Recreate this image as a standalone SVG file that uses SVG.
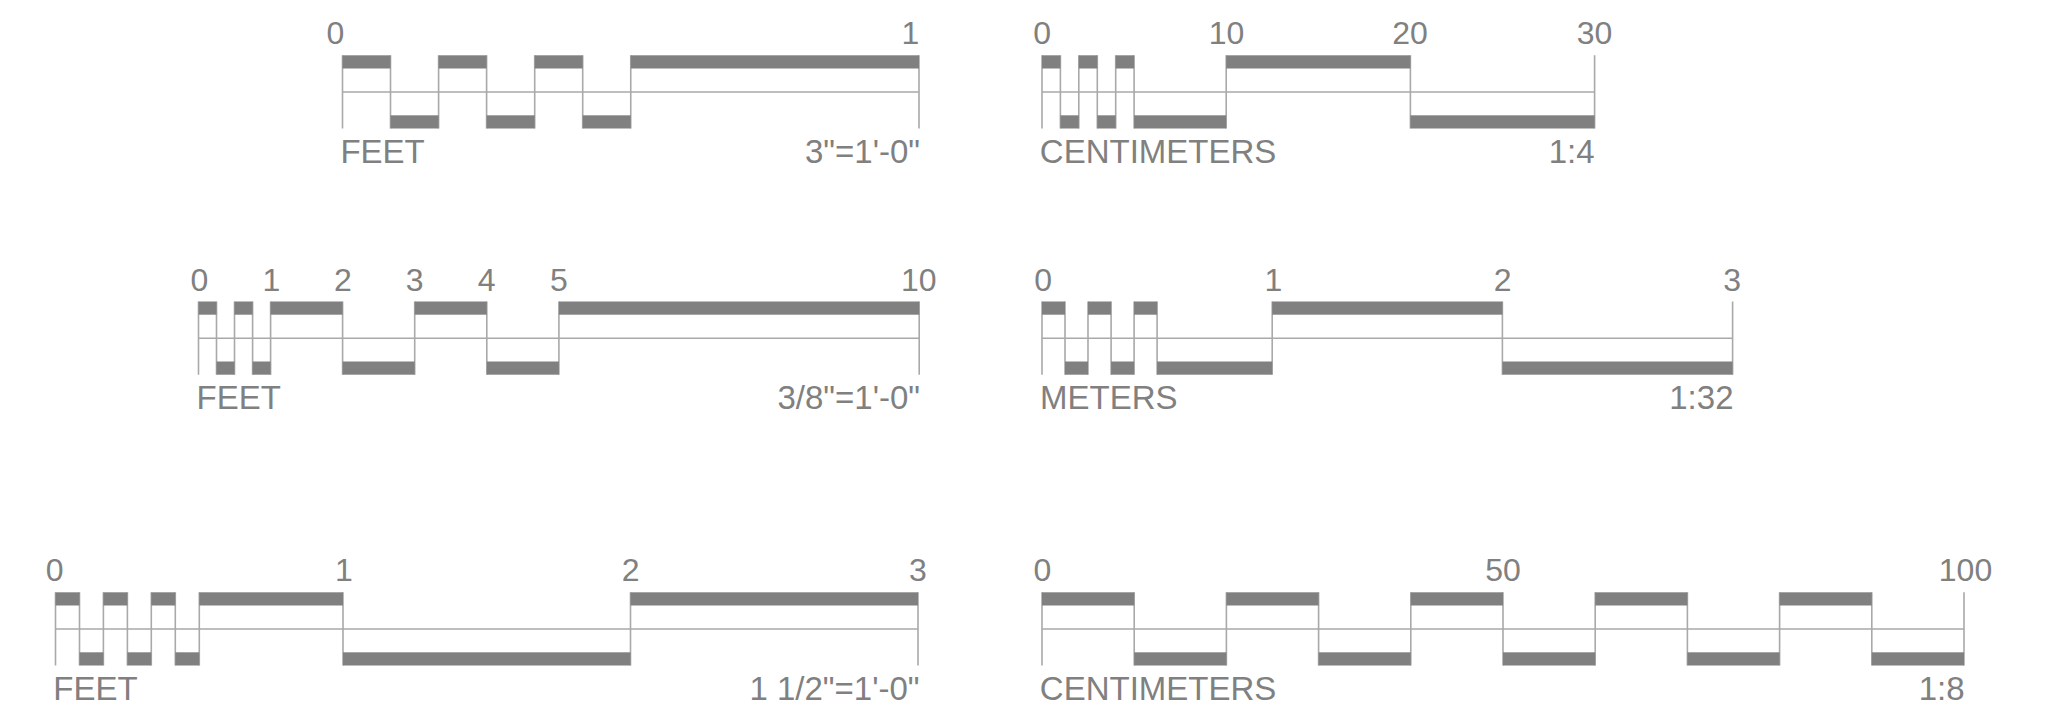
<svg xmlns="http://www.w3.org/2000/svg" width="2048" height="711" viewBox="0 0 2048 711">
<style>
.bar{fill:#808080}
.ln{stroke:#a9a9a9;stroke-width:1.6;fill:none}
.num{font-family:"Liberation Sans",Arial,sans-serif;font-size:32px;fill:#808080;text-anchor:middle}
.lbl{font-family:"Liberation Sans",Arial,sans-serif;font-size:33px;fill:#808080}
.end{text-anchor:end}
</style>
<rect width="2048" height="711" fill="#ffffff"/>

<g id="scale-feet-3in">
<path class="ln" d="M342.5 92H919M342.5 55.3V128.5M390.5 55.3V128.5M438.6 55.3V128.5M486.6 55.3V128.5M534.7 55.3V128.5M582.7 55.3V128.5M630.75 55.3V128.5M919 55.3V128.5"/>
<rect class="bar" x="342.5" y="55.3" width="48" height="13.2"/>
<rect class="bar" x="438.6" y="55.3" width="48" height="13.2"/>
<rect class="bar" x="534.7" y="55.3" width="48" height="13.2"/>
<rect class="bar" x="630.75" y="55.3" width="288.25" height="13.2"/>
<rect class="bar" x="390.5" y="115.3" width="48.1" height="13.2"/>
<rect class="bar" x="486.6" y="115.3" width="48.1" height="13.2"/>
<rect class="bar" x="582.7" y="115.3" width="48.05" height="13.2"/>
<text class="num" x="335.3" y="44">0</text>
<text class="num" x="910.5" y="44">1</text>
<text class="lbl" x="340.4" y="163.3">FEET</text>
<text class="lbl end" x="920" y="163.3">3"=1'-0"</text>
</g>

<g id="scale-cm-1-4">
<path class="ln" d="M1042 92H1594.6M1042 55.3V128.5M1060.4 55.3V128.5M1078.8 55.3V128.5M1097.3 55.3V128.5M1115.7 55.3V128.5M1134.1 55.3V128.5M1226.2 55.3V128.5M1410.4 55.3V128.5M1594.6 55.3V128.5"/>
<rect class="bar" x="1042" y="55.3" width="18.4" height="13.2"/>
<rect class="bar" x="1078.8" y="55.3" width="18.5" height="13.2"/>
<rect class="bar" x="1115.7" y="55.3" width="18.4" height="13.2"/>
<rect class="bar" x="1226.2" y="55.3" width="184.2" height="13.2"/>
<rect class="bar" x="1060.4" y="115.3" width="18.4" height="13.2"/>
<rect class="bar" x="1097.3" y="115.3" width="18.4" height="13.2"/>
<rect class="bar" x="1134.1" y="115.3" width="92.1" height="13.2"/>
<rect class="bar" x="1410.4" y="115.3" width="184.2" height="13.2"/>
<text class="num" x="1042.2" y="44">0</text>
<text class="num" x="1226.6" y="44">10</text>
<text class="num" x="1410" y="44">20</text>
<text class="num" x="1594.5" y="44">30</text>
<text class="lbl" x="1039.8" y="163.3">CENTIMETERS</text>
<text class="lbl end" x="1594.5" y="163.3">1:4</text>
</g>

<g id="scale-feet-3-8in">
<path class="ln" d="M198.5 338.2H919.2M198.5 301.5V374.7M216.5 301.5V374.7M234.5 301.5V374.7M252.6 301.5V374.7M270.6 301.5V374.7M342.6 301.5V374.7M414.7 301.5V374.7M486.8 301.5V374.7M558.9 301.5V374.7M919.2 301.5V374.7"/>
<rect class="bar" x="198.5" y="301.5" width="18" height="13.2"/>
<rect class="bar" x="234.5" y="301.5" width="18.1" height="13.2"/>
<rect class="bar" x="270.6" y="301.5" width="72" height="13.2"/>
<rect class="bar" x="414.7" y="301.5" width="72.1" height="13.2"/>
<rect class="bar" x="558.9" y="301.5" width="360.3" height="13.2"/>
<rect class="bar" x="216.5" y="361.5" width="18" height="13.2"/>
<rect class="bar" x="252.6" y="361.5" width="18" height="13.2"/>
<rect class="bar" x="342.6" y="361.5" width="72.1" height="13.2"/>
<rect class="bar" x="486.8" y="361.5" width="72.1" height="13.2"/>
<text class="num" x="199.4" y="290.5">0</text>
<text class="num" x="271.4" y="290.5">1</text>
<text class="num" x="342.9" y="290.5">2</text>
<text class="num" x="414.7" y="290.5">3</text>
<text class="num" x="486.6" y="290.5">4</text>
<text class="num" x="558.8" y="290.5">5</text>
<text class="num" x="918.8" y="290.5">10</text>
<text class="lbl" x="196.5" y="409.3">FEET</text>
<text class="lbl end" x="920" y="409.3">3/8"=1'-0"</text>
</g>

<g id="scale-m-1-32">
<path class="ln" d="M1042 338.2H1732.6M1042 301.5V374.7M1065 301.5V374.7M1088 301.5V374.7M1111.1 301.5V374.7M1134.1 301.5V374.7M1157.1 301.5V374.7M1272.2 301.5V374.7M1502.4 301.5V374.7M1732.6 301.5V374.7"/>
<rect class="bar" x="1042" y="301.5" width="23" height="13.2"/>
<rect class="bar" x="1088" y="301.5" width="23.1" height="13.2"/>
<rect class="bar" x="1134.1" y="301.5" width="23" height="13.2"/>
<rect class="bar" x="1272.2" y="301.5" width="230.2" height="13.2"/>
<rect class="bar" x="1065" y="361.5" width="23" height="13.2"/>
<rect class="bar" x="1111.1" y="361.5" width="23" height="13.2"/>
<rect class="bar" x="1157.1" y="361.5" width="115.1" height="13.2"/>
<rect class="bar" x="1502.4" y="361.5" width="230.2" height="13.2"/>
<text class="num" x="1043.1" y="290.5">0</text>
<text class="num" x="1273.5" y="290.5">1</text>
<text class="num" x="1502.6" y="290.5">2</text>
<text class="num" x="1732.2" y="290.5">3</text>
<text class="lbl" x="1040.1" y="409.3">METERS</text>
<text class="lbl end" x="1733.5" y="409.3">1:32</text>
</g>

<g id="scale-feet-1-1-2in">
<path class="ln" d="M55.5 629H918M55.5 592.3V665.5M79.5 592.3V665.5M103.4 592.3V665.5M127.4 592.3V665.5M151.3 592.3V665.5M175.3 592.3V665.5M199.3 592.3V665.5M343 592.3V665.5M630.5 592.3V665.5M918 592.3V665.5"/>
<rect class="bar" x="55.5" y="592.3" width="24" height="13.2"/>
<rect class="bar" x="103.4" y="592.3" width="24" height="13.2"/>
<rect class="bar" x="151.3" y="592.3" width="24" height="13.2"/>
<rect class="bar" x="199.3" y="592.3" width="143.7" height="13.2"/>
<rect class="bar" x="630.5" y="592.3" width="287.5" height="13.2"/>
<rect class="bar" x="79.5" y="652.3" width="23.9" height="13.2"/>
<rect class="bar" x="127.4" y="652.3" width="23.9" height="13.2"/>
<rect class="bar" x="175.3" y="652.3" width="24" height="13.2"/>
<rect class="bar" x="343" y="652.3" width="287.5" height="13.2"/>
<text class="num" x="54.7" y="581">0</text>
<text class="num" x="343.8" y="581">1</text>
<text class="num" x="630.7" y="581">2</text>
<text class="num" x="918" y="581">3</text>
<text class="lbl" x="53.3" y="700.3">FEET</text>
<text class="lbl end" x="919.5" y="700.3">1 1/2"=1'-0"</text>
</g>

<g id="scale-cm-1-8">
<path class="ln" d="M1042 629H1964M1042 592.3V665.5M1134.2 592.3V665.5M1226.4 592.3V665.5M1318.6 592.3V665.5M1410.8 592.3V665.5M1503 592.3V665.5M1595.2 592.3V665.5M1687.4 592.3V665.5M1779.6 592.3V665.5M1871.8 592.3V665.5M1964 592.3V665.5"/>
<rect class="bar" x="1042" y="592.3" width="92.2" height="13.2"/>
<rect class="bar" x="1226.4" y="592.3" width="92.2" height="13.2"/>
<rect class="bar" x="1410.8" y="592.3" width="92.2" height="13.2"/>
<rect class="bar" x="1595.2" y="592.3" width="92.2" height="13.2"/>
<rect class="bar" x="1779.6" y="592.3" width="92.2" height="13.2"/>
<rect class="bar" x="1134.2" y="652.3" width="92.2" height="13.2"/>
<rect class="bar" x="1318.6" y="652.3" width="92.2" height="13.2"/>
<rect class="bar" x="1503" y="652.3" width="92.2" height="13.2"/>
<rect class="bar" x="1687.4" y="652.3" width="92.2" height="13.2"/>
<rect class="bar" x="1871.8" y="652.3" width="92.2" height="13.2"/>
<text class="num" x="1042.3" y="581">0</text>
<text class="num" x="1503" y="581">50</text>
<text class="num" x="1965.5" y="581">100</text>
<text class="lbl" x="1039.8" y="700.3">CENTIMETERS</text>
<text class="lbl end" x="1964.5" y="700.3">1:8</text>
</g>
</svg>
